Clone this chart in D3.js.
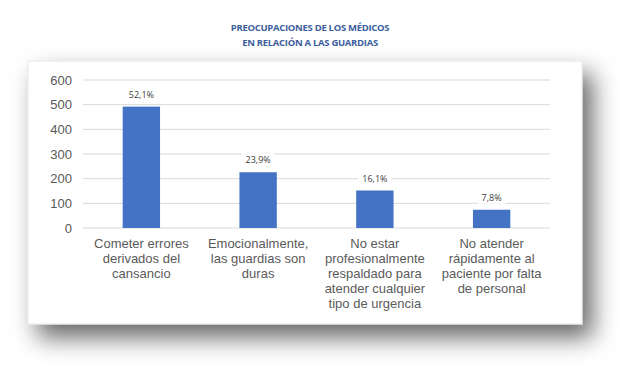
<!DOCTYPE html>
<html>
<head>
	<meta charset="utf-8">
	<script src="https://cdn.jsdelivr.net/npm/d3@7"></script>
	<style type="text/css">
		body { margin: 0; background: #fff; }
		.axis text { font-family: "Liberation Sans", Arial, sans-serif; font-size: 13px; fill: #595959; }
		.cat { font-family: "Liberation Sans", Arial, sans-serif; font-size: 13px; fill: #5a5a5a; }
		.pct { font-family: "Open Sans", sans-serif; font-size: 9px; fill: #404040; }
		.title { font-family: "Open Sans", sans-serif; font-size: 9.5px; font-weight: bold; fill: #3d5e9e; letter-spacing: -0.3px; }
	</style>
</head>
<body>
	<script type="text/javascript">
		var categories = [
			["Cometer errores", "derivados del", "cansancio"],
			["Emocionalmente,", "las guardias son", "duras"],
			["No estar", "profesionalmente", "respaldado para", "atender cualquier", "tipo de urgencia"],
			["No atender", "rápidamente al", "paciente por falta", "de personal"]
		];
		var values = [492, 226, 152, 74];
		var percents = ["52,1%", "23,9%", "16,1%", "7,8%"];
		var yTicks = [0, 100, 200, 300, 400, 500, 600];
		var titleLines = ["PREOCUPACIONES DE LOS MÉDICOS", "EN RELACIÓN A LAS GUARDIAS"];

		var width = 640, height = 383;
		var svg = d3.select("body").append("svg")
			.attr("width", width)
			.attr("height", height);

		// shadow for the card
		var defs = svg.append("defs");
		var f = defs.append("filter").attr("id", "shadow")
			.attr("x", "-25%").attr("y", "-30%").attr("width", "160%").attr("height", "180%");
		f.append("feDropShadow")
			.attr("dx", 10).attr("dy", 13)
			.attr("stdDeviation", 12)
			.attr("flood-color", "#000")
			.attr("flood-opacity", 0.6);

		svg.append("rect")
			.attr("x", 28).attr("y", 61)
			.attr("width", 554).attr("height", 263)
			.attr("fill", "#fff")
			.attr("stroke", "#e6e6e6")
			.attr("filter", "url(#shadow)");

		svg.selectAll(".title")
			.data(titleLines)
			.enter()
			.append("text")
			.attr("class", "title")
			.attr("x", 310)
			.attr("y", function(d, i) { return 31 + i * 15; })
			.attr("text-anchor", "middle")
			.text(function(d) { return d; });

		var xScale = d3.scaleBand()
			.domain(d3.range(values.length))
			.range([83, 550])
			.paddingInner(0.68)
			.paddingOuter(0.34);
		var yScale = d3.scaleLinear()
			.domain([0, 600])
			.range([228, 80]);

		// grid
		svg.append("g")
			.selectAll("line")
			.data(yTicks)
			.enter()
			.append("line")
			.attr("x1", 83).attr("x2", 550)
			.attr("y1", function(d) { return yScale(d); })
			.attr("y2", function(d) { return yScale(d); })
			.attr("stroke", "#d9d9d9")
			.attr("stroke-width", 1);

		var yAxis = d3.axisLeft(yScale).tickValues(yTicks).tickSize(0).tickPadding(0);
		var yG = svg.append("g")
			.attr("class", "axis")
			.attr("transform", "translate(72,0)")
			.call(yAxis);
		yG.select(".domain").remove();
		yG.selectAll("text").attr("font-family", null).attr("font-size", null);

		svg.append("g")
			.selectAll("rect")
			.data(values)
			.enter()
			.append("rect")
			.attr("x", function(d, i) { return xScale(i); })
			.attr("y", function(d) { return yScale(d); })
			.attr("width", xScale.bandwidth())
			.attr("height", function(d) { return yScale(0) - yScale(d); })
			.attr("fill", "#4472c4");

		// percent labels with white backing over grid
		var lab = svg.append("g").selectAll("g")
			.data(values)
			.enter()
			.append("g");
		lab.append("text")
			.attr("class", "pct")
			.attr("x", function(d, i) { return xScale(i) + xScale.bandwidth() / 2; })
			.attr("y", function(d) { return yScale(d) - 9; })
			.attr("text-anchor", "middle")
			.text(function(d, i) { return percents[i]; })
			.each(function() {
				var b = this.getBBox();
				d3.select(this.parentNode).insert("rect", "text")
					.attr("x", b.x - 4).attr("y", b.y)
					.attr("width", b.width + 8).attr("height", b.height)
					.attr("fill", "#fff");
			});

		// category labels
		var cats = svg.append("g").selectAll("text")
			.data(categories)
			.enter()
			.append("text")
			.attr("class", "cat")
			.attr("text-anchor", "middle")
			.attr("x", function(d, i) { return xScale(i) + xScale.bandwidth() / 2; })
			.attr("y", 248);
		cats.selectAll("tspan")
			.data(function(d) { return d; })
			.enter()
			.append("tspan")
			.attr("x", function() { return d3.select(this.parentNode).attr("x"); })
			.attr("dy", function(d, i) { return i == 0 ? 0 : 15; })
			.text(function(d) { return d; });
	</script>
</body>
</html>
